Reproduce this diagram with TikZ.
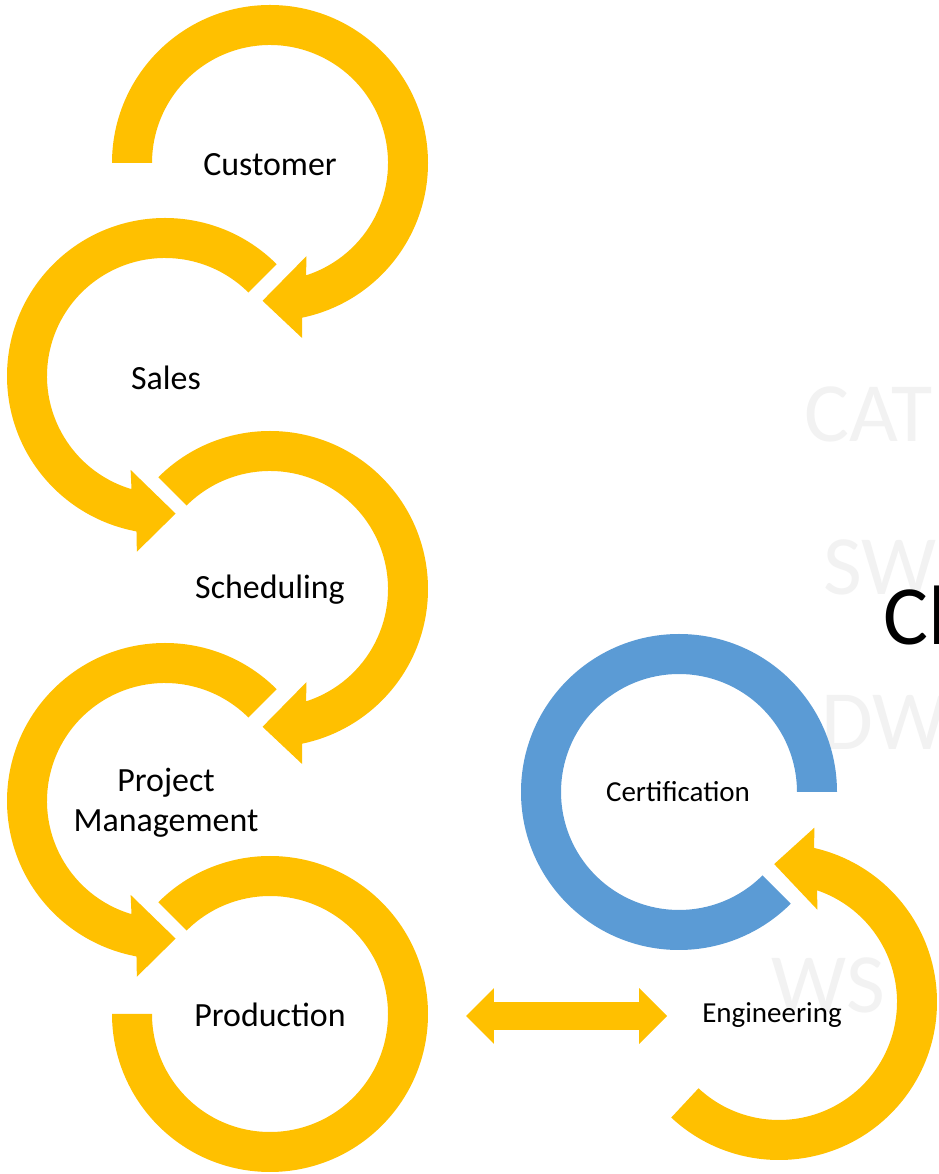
\documentclass[tikz,border=0pt]{standalone}
\usepackage{fontspec}
\setmainfont{Carlito}
\usetikzlibrary{arrows.meta}
\usepackage{xcolor}
\definecolor{gold}{RGB}{255,192,0}
\definecolor{steel}{RGB}{91,155,213}
\definecolor{wmark}{RGB}{242,242,242}

\begin{document}
\begin{tikzpicture}[x=0.02cm,y=0.02cm]
\tikzstyle{lbl}=[font=\fontsize{19.3}{23}\selectfont, align=center]
\tikzstyle{smalllbl}=[font=\fontsize{16.5}{20}\selectfont]
\tikzstyle{wm}=[font=\fontsize{48}{50}\selectfont, text=wmark, anchor=base west, inner sep=0pt]
\tikzstyle{dbl}=[draw=gold, line width=0.56cm, >={Triangle[length=0.56cm,width=1.12cm,line width=0pt]}, <->]

\useasboundingbox (0,0) rectangle (938,1174);
\clip (0,0) rectangle (938,1174);
\fill[white] (0,0) rectangle (938,1174);

% words in the background
\node[wm] (W1) at (804,732) {CAT};
\node[wm] (W2) at (823,579) {SW};
\node[wm] (W3) at (821,424) {DW};
\node[wm] (W4) at (771,161) {WS};
\node[wm, text=black] (T) at (883,529) {Cl};

% ring centres
\coordinate (cu) at (270,1011);
\coordinate (sa) at (165,798);
\coordinate (sc) at (270,585);
\coordinate (pm) at (165,373);
\coordinate (pr) at (270,160);
\coordinate (ce) at (679,382);
\coordinate (en) at (779,172);

% rings with a head
\foreach \c/\s/\e/\d in {cu/180/-75.6/-1, sa/45/256.9/1, sc/135/-75.6/-1, pm/45/256.9/1, en/227/434.5/1}{
  \pgfmathsetmacro\angA{\e+2.7*\d}
  \pgfmathsetmacro\angB{\e+4*\d}
  \pgfmathsetmacro\angT{\e+17.5*\d}
  \pgfmathsetmacro\angC{\e-7*\d}
  \pgfmathsetmacro\angD{\e-3.4*\d}
  \fill[gold, shift={(\c)}] (\s:158) arc[start angle=\s, end angle=\angA, radius=158]
    -- (\angB:178) -- (\angT:138) -- (\angC:100) -- (\angD:118)
    arc[start angle=\angD, end angle=\s, radius=118] -- cycle;
}
% open rings
\foreach \c/\s/\e/\k in {pr/135/-180/gold, ce/0/315/steel}{
  \fill[\k, shift={(\c)}] (\s:158) arc[start angle=\s, end angle=\e, radius=158]
    -- (\e:118) arc[start angle=\e, end angle=\s, radius=118] -- cycle;
}

\node[lbl] (Cu) at (270,1009) {Customer};
\node[lbl] (Sa) at (166,796) {Sales};
\node[lbl] (Sc) at (270,584) {Scheduling};
\node[lbl] (PM) at (166,371) {Project\\Management};
\node[lbl] (Pr) at (270,159) {Production};
\node[smalllbl] (Ce) at (678,382) {Certification};
\node[smalllbl] (En) at (772,159) {Engineering};

\coordinate (a1) at (466,158);
\coordinate (a2) at (667,158);
\draw[dbl] (a1) -- (a2);
\end{tikzpicture}
\end{document}
